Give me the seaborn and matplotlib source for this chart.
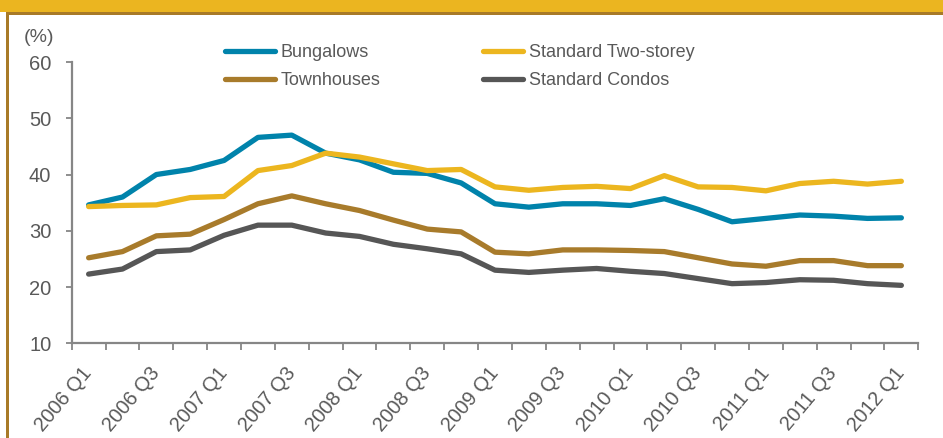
import matplotlib
matplotlib.use("Agg")
import matplotlib.pyplot as plt
import seaborn as sns
import pandas as pd
import numpy as np
from matplotlib.patches import Rectangle

# ---------------- data ----------------
quarters = ["2006 Q1", "2006 Q2", "2006 Q3", "2006 Q4",
            "2007 Q1", "2007 Q2", "2007 Q3", "2007 Q4",
            "2008 Q1", "2008 Q2", "2008 Q3", "2008 Q4",
            "2009 Q1", "2009 Q2", "2009 Q3", "2009 Q4",
            "2010 Q1", "2010 Q2", "2010 Q3", "2010 Q4",
            "2011 Q1", "2011 Q2", "2011 Q3", "2011 Q4",
            "2012 Q1"]
bungalows = [34.6, 36.0, 40.0, 40.9, 42.5, 46.6, 47.0, 43.8, 42.6, 40.4, 40.2, 38.5,
             34.8, 34.2, 34.8, 34.8, 34.5, 35.7, 33.8, 31.6, 32.2, 32.8, 32.6, 32.2, 32.3]
two_storey = [34.3, 34.5, 34.6, 35.9, 36.1, 40.7, 41.6, 43.8, 43.1, 41.9, 40.7, 40.9,
              37.8, 37.2, 37.7, 37.9, 37.5, 39.8, 37.8, 37.7, 37.1, 38.4, 38.8, 38.3, 38.8]
townhouses = [25.2, 26.3, 29.1, 29.4, 32.0, 34.8, 36.2, 34.8, 33.6, 31.9, 30.3, 29.8,
              26.2, 25.9, 26.6, 26.6, 26.5, 26.3, 25.2, 24.1, 23.7, 24.7, 24.7, 23.8, 23.8]
condos = [22.3, 23.2, 26.3, 26.6, 29.2, 31.0, 31.0, 29.6, 29.0, 27.6, 26.8, 25.9,
          23.0, 22.6, 23.0, 23.3, 22.8, 22.4, 21.5, 20.6, 20.8, 21.3, 21.2, 20.6, 20.3]
series_names = ["Bungalows", "Standard Two-storey", "Townhouses", "Standard Condos"]
y_ticks = [10, 20, 30, 40, 50, 60]

colors = {"Bungalows": "#0083AB", "Standard Two-storey": "#ECB61F",
          "Townhouses": "#A87B2B", "Standard Condos": "#565656"}
TXT = "#595959"
AXC = "#868686"

# ---------------- style ----------------
sns.set_style("white")
plt.rcParams["font.family"] = ["Liberation Sans", "DejaVu Sans"]

W, H = 943, 438
fig = plt.figure(figsize=(W / 100, H / 100), dpi=100)
fig.patch.set_facecolor("white")
ax = fig.add_axes([71.7 / W, 1 - 343.3 / H, (918.3 - 71.7) / W, (343.3 - 62) / H])

frames = []
for name, vals in zip(series_names, [bungalows, two_storey, townhouses, condos]):
    frames.append(pd.DataFrame({"idx": np.arange(len(quarters)), "value": vals, "series": name}))
df = pd.concat(frames, ignore_index=True)

sns.lineplot(data=df, x="idx", y="value", hue="series", hue_order=series_names,
             palette=colors, linewidth=3.8, ax=ax, legend=True)
for ln in ax.lines:
    ln.set_solid_capstyle("round")
    ln.set_solid_joinstyle("round")

ax.set_xlim(-0.5, len(quarters) - 0.5)
ax.set_ylim(10, 60)
ax.set_xlabel("")
ax.set_ylabel("")

ax.set_yticks(y_ticks)
ax.set_yticklabels([str(v) for v in y_ticks])
ax.set_xticks(np.arange(0, len(quarters), 2))
ax.set_xticklabels(quarters[::2])
ax.set_xticks(np.arange(-0.5, len(quarters), 1), minor=True)

for side in ["top", "right"]:
    ax.spines[side].set_visible(False)
for side in ["left", "bottom"]:
    ax.spines[side].set_color(AXC)
    ax.spines[side].set_linewidth(1.6)

ax.tick_params(axis="y", which="major", direction="out", length=4.2, width=1.3,
               color=AXC, labelcolor=TXT, labelsize=14.5, pad=10.5, left=True)
ax.tick_params(axis="x", which="major", length=0, labelcolor=TXT, labelsize=14.5, pad=19)
ax.tick_params(axis="x", which="minor", direction="out", length=4.8, width=1.3,
               color=AXC, bottom=True)
for lab in ax.get_xticklabels():
    lab.set_rotation(50)
    lab.set_ha("right")
    lab.set_va("center")
    lab.set_rotation_mode("anchor")

# legend (two columns, drawn as two legends)
handles, labels = ax.get_legend_handles_labels()
ax.get_legend().remove()
hmap = dict(zip(labels, handles))
FS = 13.0
em = FS * 100 / 72
common = dict(frameon=False, loc="upper left", bbox_transform=fig.transFigure,
              borderaxespad=0, borderpad=0, handletextpad=6.5 / em,
              labelspacing=0.62, labelcolor=TXT, fontsize=FS)
col1 = ["Bungalows", "Townhouses"]
col2 = ["Standard Two-storey", "Standard Condos"]
leg1 = ax.legend([hmap[o] for o in col1], col1, bbox_to_anchor=(224.5 / W, 1 - 44 / H),
                 handlelength=50 / em, **common)
ax.add_artist(leg1)
leg2 = ax.legend([hmap[o] for o in col2], col2, bbox_to_anchor=(482.5 / W, 1 - 44 / H),
                 handlelength=40 / em, **common)
for lg in (leg1, leg2):
    for lh in lg.get_lines():
        lh.set_linewidth(3.8)
        lh.set_solid_capstyle("round")

fig.text(39 / W, 1 - 37 / H, "(%)", ha="center", va="center", fontsize=14, color=TXT)

# frame decorations
GOLD = "#EBB520"
BROWN = "#A87A28"
fig.patches.append(Rectangle((0, 1 - 12 / H), 1, 12 / H, transform=fig.transFigure,
                             facecolor=GOLD, edgecolor="none", zorder=5))
fig.patches.append(Rectangle((6 / W, 1 - 15 / H), 1, 3 / H, transform=fig.transFigure,
                             facecolor=BROWN, edgecolor="none", zorder=5))
fig.patches.append(Rectangle((6 / W, 0), 3 / W, 1 - 12 / H, transform=fig.transFigure,
                             facecolor=BROWN, edgecolor="none", zorder=5))

fig.savefig("out.png", dpi=100)
